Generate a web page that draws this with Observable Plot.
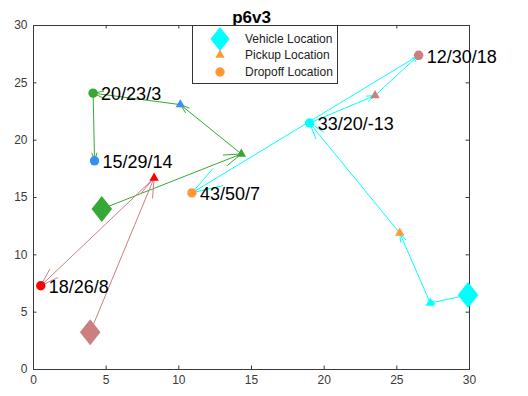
<!DOCTYPE html>
<html>
<head>
<meta charset="utf-8">
<script src="https://cdn.jsdelivr.net/npm/d3@7"></script>
<script src="https://cdn.jsdelivr.net/npm/@observablehq/plot@0.6"></script>
<style>
  body { margin: 0; background: #fff; font-family: "Liberation Sans", Arial, sans-serif; }
  #chart { position: relative; width: 528px; height: 396px; }
  #legend {
    position: absolute; left: 192px; top: 25px; width: 144px; height: 57px;
    border: 1px solid #333; background: #fff; box-sizing: content-box;
  }
  #legend svg { display: block; overflow: visible; }
</style>
</head>
<body>
<div id="chart"></div>
<script>
// Passengers: label, marker colour, pickup and dropoff positions
const passengerLabels = ["20/23/3", "15/29/14", "18/26/8", "43/50/7", "33/20/-13", "12/30/18"];
const passengerColors = ["#35a835", "#3391f5", "#ff0000", "#ff9933", "#00ffff", "#cc7f7f"];
const pickupX  = [14.3, 10.1, 8.3, 25.2, 27.3, 23.5];
const pickupY  = [18.8, 23.1, 16.7, 11.9, 5.8, 23.9];
const dropoffX = [4.1, 4.2, 0.5, 10.9, 19.0, 26.5];
const dropoffY = [24.1, 18.2, 7.3, 15.4, 21.5, 27.4];

// Vehicles: start position, colour and the ordered stops ("p" pickup / "d" dropoff, passenger index)
const vehicleColors = ["#00ffff", "#35a835", "#cc7f7f"];
const vehicleX = [29.9, 4.7, 3.9];
const vehicleY = [6.5, 14.0, 3.25];
const vehicleStops = [
  [["p", 4], ["p", 3], ["d", 4], ["p", 5], ["d", 5], ["d", 3]],
  [["p", 0], ["p", 1], ["d", 0], ["d", 1]],
  [["p", 2], ["d", 2]]
];

// Axis ticks
const xTicks = [0, 5, 10, 15, 20, 25, 30];
const yTicks = [0, 5, 10, 15, 20, 25, 30];

const chartTitle = "p6v3";
const legendLabels = ["Vehicle Location", "Pickup Location", "Dropoff Location"];

// Layout
const W = 528, H = 396;
const mL = 33, mR = 59, mT = 25, mB = 27;
const plotW = W - mL - mR, plotH = H - mT - mB;
const kx = plotW / 30, ky = plotH / 30;
const axisColor = "#3a3a3a";
const tickLen = 3.5;

const passengers = passengerLabels.map((label, i) => ({
  label, color: passengerColors[i],
  px: pickupX[i], py: pickupY[i], dx: dropoffX[i], dy: dropoffY[i]
}));
const vehicles = vehicleColors.map((color, i) => ({color, x: vehicleX[i], y: vehicleY[i]}));

// Route legs: consecutive stops of each vehicle
const legs = [];
vehicles.forEach((v, vi) => {
  let prev = [v.x, v.y];
  for (const [kind, pi] of vehicleStops[vi]) {
    const p = passengers[pi];
    const next = kind === "p" ? [p.px, p.py] : [p.dx, p.dy];
    legs.push({x1: prev[0], y1: prev[1], x2: next[0], y2: next[1], color: v.color});
    prev = next;
  }
});

// Arrowhead grows with the on-screen length of each leg
const legArrows = legs.map(l => {
  const len = Math.hypot((l.x2 - l.x1) * kx, (l.y2 - l.y1) * ky);
  const wing = 0.12 * len;
  return Plot.arrow([l], {
    x1: "x1", y1: "y1", x2: "x2", y2: "y2",
    stroke: l.color, strokeWidth: 1,
    headAngle: 36, headLength: 1.5 * wing
  });
});

// Diamond a little taller than wide
const tallDiamond = {
  draw(context, size) {
    const w = Math.sqrt(size / Math.PI);
    const h = w * 1.27;
    context.moveTo(0, -h);
    context.lineTo(w, 0);
    context.lineTo(0, h);
    context.lineTo(-w, 0);
    context.closePath();
  }
};

const chart = Plot.plot({
  width: W, height: H,
  marginLeft: mL, marginRight: mR, marginTop: mT, marginBottom: mB,
  style: {fontFamily: "'Liberation Sans', Arial, sans-serif", background: "#fff", overflow: "visible"},
  x: {domain: [0, 30]},
  y: {domain: [0, 30]},
  marks: [
    Plot.frame({stroke: axisColor, strokeWidth: 1}),
    // inward ticks on all four sides
    Plot.tickX(xTicks, {x: d => d, insetTop: plotH - tickLen, stroke: axisColor}),
    Plot.tickX(xTicks, {x: d => d, insetBottom: plotH - tickLen, stroke: axisColor}),
    Plot.tickY(yTicks, {y: d => d, insetRight: plotW - tickLen, stroke: axisColor}),
    Plot.tickY(yTicks, {y: d => d, insetLeft: plotW - tickLen, stroke: axisColor}),
    Plot.axisX({ticks: xTicks, tickSize: 0, tickPadding: 6, fontSize: 12, color: "#3a3a3a", label: null}),
    Plot.axisY({ticks: yTicks, tickSize: 0, tickPadding: 6, fontSize: 12, color: "#3a3a3a", label: null}),
    ...legArrows,
    Plot.dot(passengers, {x: "px", y: "py", symbol: "triangle", r: 3.5, fill: "color", stroke: null}),
    Plot.dot(passengers, {x: "dx", y: "dy", symbol: "circle", r: 4.7, fill: "color", stroke: null}),
    Plot.dot(vehicles, {x: "x", y: "y", symbol: tallDiamond, r: 10.3, fill: "color", stroke: null}),
    Plot.text(passengers, {
      x: "dx", y: "dy", text: "label", textAnchor: "start", dx: 8, dy: 1.5,
      fontSize: 18, fill: "#000"
    }),
    Plot.text([chartTitle], {
      frameAnchor: "top", lineAnchor: "bottom", dy: -3,
      fontSize: 17, fontWeight: "bold", fill: "#000"
    })
  ]
});

const root = document.getElementById("chart");
root.appendChild(chart);

// Legend box inside the top of the axes
const legend = document.createElement("div");
legend.id = "legend";
root.appendChild(legend);
const lsvg = d3.select(legend).append("svg").attr("width", 144).attr("height", 57);
const rowY = [13, 29, 46];
const symX = 27;
const diamondPath = d3.path();
tallDiamond.draw(diamondPath, Math.PI * 9.5 * 9.5);
lsvg.append("path").attr("d", diamondPath.toString())
  .attr("transform", `translate(${symX},${rowY[0]})`).attr("fill", vehicleColors[0]);
lsvg.append("path").attr("d", d3.symbol(d3.symbolTriangle, Math.PI * 3.5 * 3.5)())
  .attr("transform", `translate(${symX},${rowY[1]})`).attr("fill", passengerColors[3]);
lsvg.append("circle").attr("cx", symX).attr("cy", rowY[2]).attr("r", 4.7).attr("fill", passengerColors[3]);
lsvg.selectAll("text").data(legendLabels).join("text")
  .attr("x", 52).attr("y", (d, i) => rowY[i]).attr("dy", "0.36em")
  .attr("font-size", 12).attr("fill", "#222")
  .attr("font-family", "'Liberation Sans', Arial, sans-serif")
  .text(d => d);
</script>
</body>
</html>
